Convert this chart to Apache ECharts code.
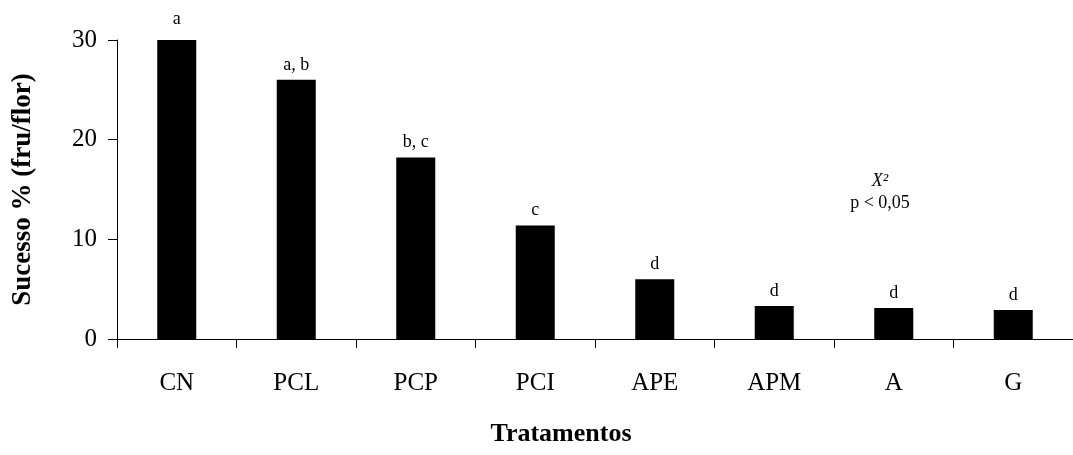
<!DOCTYPE html>
<html><head><meta charset="utf-8">
<script src="https://cdn.jsdelivr.net/npm/echarts@6/dist/echarts.min.js"></script>
<style>html,body{margin:0;padding:0;background:#fff}#c{width:1073px;height:455px}</style>
</head><body><div id="c"></div>
<script>
var categories = ['CN','PCL','PCP','PCI','APE','APM','A','G'];
var values = [30, 26, 18.2, 11.4, 6.0, 3.3, 3.1, 2.9];
var letters = ['a','a, b','b, c','c','d','d','d','d'];
var yTicks = [0, 10, 20, 30];

var FONT = '"Liberation Serif","Times New Roman",serif';
var chart = echarts.init(document.getElementById('c'));
chart.setOption({
  animation: false,
  grid: {left: 117, top: 40, width: 958, height: 299},
  xAxis: {
    type: 'category', data: categories,
    axisLine: {lineStyle: {color: '#000', width: 1}},
    axisTick: {show: true, length: 9, lineStyle: {color: '#000'}},
    axisLabel: {color: '#000', fontFamily: FONT, fontSize: 25, margin: 32}
  },
  yAxis: {
    type: 'value', min: 0, max: 30, interval: 10,
    name: 'Sucesso % (fru/flor)', nameLocation: 'middle', nameGap: 80,
    nameTextStyle: {color: '#000', fontFamily: FONT, fontSize: 27, fontWeight: 'bold'},
    axisLine: {show: true, lineStyle: {color: '#000', width: 1}},
    axisTick: {show: true, length: 9, lineStyle: {color: '#000'}},
    splitLine: {show: false},
    axisLabel: {color: '#000', fontFamily: FONT, fontSize: 25, margin: 20,
      formatter: function(v){ return yTicks.indexOf(v) >= 0 ? String(v) : ''; }}
  },
  series: [{
    type: 'bar', barWidth: 39,
    itemStyle: {color: '#000'},
    data: values.map(function(v, i){
      return {value: v, label: {distance: i === 0 ? 12 : 6}};
    }),
    label: {show: true, position: 'top', color: '#000', fontFamily: FONT, fontSize: 18,
      formatter: function(p){ return letters[p.dataIndex]; }}
  }],
  graphic: [
    {type: 'text', x: 561, y: 434, style: {text: 'Tratamentos', fill: '#000', font: 'bold 26px ' + FONT, textAlign: 'center', textVerticalAlign: 'middle'}},
    {type: 'text', x: 880, y: 181, style: {text: 'X²', fill: '#000', font: 'italic 18px ' + FONT, textAlign: 'center', textVerticalAlign: 'middle'}},
    {type: 'text', x: 880, y: 203, style: {text: 'p < 0,05', fill: '#000', font: '18px ' + FONT, textAlign: 'center', textVerticalAlign: 'middle'}}
  ]
});
</script></body></html>
